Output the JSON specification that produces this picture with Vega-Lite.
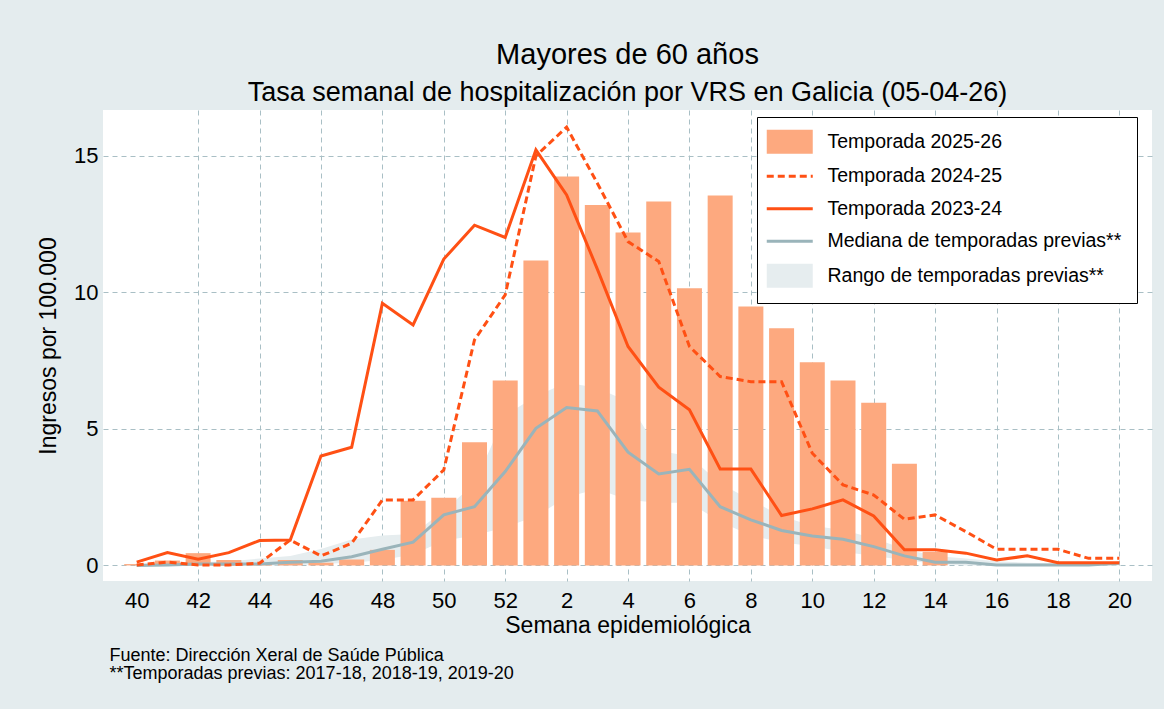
{
  "$schema": "https://vega.github.io/schema/vega-lite/v6.json",
  "autosize": {"type": "none"},
  "width": 1049,
  "height": 471,
  "padding": {"left": 103, "top": 110, "right": 12, "bottom": 128},
  "background": "#E4ECEE",
  "config": {"view": {"fill": "white", "stroke": null}, "font": "Liberation Sans"},
  "title": {
    "text": "Mayores de 60 años",
    "subtitle": "Tasa semanal de hospitalización por VRS en Galicia (05-04-26)",
    "anchor": "middle", "frame": "group",
    "font": "Liberation Sans", "subtitleFont": "Liberation Sans",
    "fontSize": 29, "fontWeight": "normal", "subtitleFontSize": 27,
    "color": "black", "subtitleColor": "black",
    "subtitlePadding": 10, "offset": 4
  },
  "data": {"values": [
    {"idx": 0, "t2526": 0.05, "t2425": 0.02, "t2324": 0.12, "med": 0.0, "rmin": 0, "rmax": 0.08},
    {"idx": 1, "t2526": 0.18, "t2425": 0.12, "t2324": 0.47, "med": 0.02, "rmin": 0, "rmax": 0.1},
    {"idx": 2, "t2526": 0.45, "t2425": 0.02, "t2324": 0.23, "med": 0.05, "rmin": 0, "rmax": 0.12},
    {"idx": 3, "t2526": 0.2, "t2425": 0.02, "t2324": 0.47, "med": 0.05, "rmin": 0, "rmax": 0.15},
    {"idx": 4, "t2526": 0.05, "t2425": 0.08, "t2324": 0.91, "med": 0.05, "rmin": 0, "rmax": 0.25},
    {"idx": 5, "t2526": 0.2, "t2425": 0.93, "t2324": 0.93, "med": 0.12, "rmin": 0, "rmax": 0.35},
    {"idx": 6, "t2526": 0.1, "t2425": 0.35, "t2324": 4.01, "med": 0.15, "rmin": 0.05, "rmax": 0.6},
    {"idx": 7, "t2526": 0.22, "t2425": 0.81, "t2324": 4.33, "med": 0.32, "rmin": 0.1, "rmax": 0.95},
    {"idx": 8, "t2526": 0.57, "t2425": 2.4, "t2324": 9.6, "med": 0.59, "rmin": 0.2, "rmax": 1.1},
    {"idx": 9, "t2526": 2.37, "t2425": 2.4, "t2324": 8.81, "med": 0.85, "rmin": 0.4, "rmax": 1.15},
    {"idx": 10, "t2526": 2.48, "t2425": 3.5, "t2324": 11.22, "med": 1.85, "rmin": 0.9, "rmax": 2.0},
    {"idx": 11, "t2526": 4.51, "t2425": 8.26, "t2324": 12.46, "med": 2.15, "rmin": 1.1, "rmax": 3.0},
    {"idx": 12, "t2526": 6.77, "t2425": 9.91, "t2324": 12.01, "med": 3.44, "rmin": 1.4, "rmax": 5.5},
    {"idx": 13, "t2526": 11.17, "t2425": 15.0, "t2324": 15.22, "med": 5.02, "rmin": 1.8, "rmax": 6.2},
    {"idx": 14, "t2526": 14.24, "t2425": 16.05, "t2324": 13.57, "med": 5.78, "rmin": 2.5, "rmax": 6.7},
    {"idx": 15, "t2526": 13.2, "t2425": 14.0, "t2324": 10.85, "med": 5.66, "rmin": 2.8, "rmax": 6.5},
    {"idx": 16, "t2526": 12.19, "t2425": 11.86, "t2324": 8.02, "med": 4.15, "rmin": 2.4, "rmax": 6.0},
    {"idx": 17, "t2526": 13.33, "t2425": 11.13, "t2324": 6.53, "med": 3.35, "rmin": 2.3, "rmax": 4.2},
    {"idx": 18, "t2526": 10.15, "t2425": 8.02, "t2324": 5.7, "med": 3.52, "rmin": 2.3, "rmax": 4.0},
    {"idx": 19, "t2526": 13.55, "t2425": 6.92, "t2324": 3.53, "med": 2.15, "rmin": 1.6, "rmax": 3.0},
    {"idx": 20, "t2526": 9.48, "t2425": 6.73, "t2324": 3.53, "med": 1.67, "rmin": 1.1, "rmax": 2.4},
    {"idx": 21, "t2526": 8.69, "t2425": 6.73, "t2324": 1.83, "med": 1.28, "rmin": 0.85, "rmax": 1.8},
    {"idx": 22, "t2526": 7.44, "t2425": 4.11, "t2324": 2.07, "med": 1.08, "rmin": 0.7, "rmax": 1.45},
    {"idx": 23, "t2526": 6.77, "t2425": 2.95, "t2324": 2.4, "med": 0.96, "rmin": 0.5, "rmax": 1.3},
    {"idx": 24, "t2526": 5.96, "t2425": 2.58, "t2324": 1.81, "med": 0.69, "rmin": 0.35, "rmax": 1.0},
    {"idx": 25, "t2526": 3.72, "t2425": 1.69, "t2324": 0.57, "med": 0.35, "rmin": 0.2, "rmax": 0.6},
    {"idx": 26, "t2526": 0.5, "t2425": 1.85, "t2324": 0.57, "med": 0.12, "rmin": 0.05, "rmax": 0.35},
    {"idx": 27, "t2526": null, "t2425": 1.24, "t2324": 0.45, "med": 0.12, "rmin": 0, "rmax": 0.25},
    {"idx": 28, "t2526": null, "t2425": 0.59, "t2324": 0.2, "med": 0.02, "rmin": 0, "rmax": 0.15},
    {"idx": 29, "t2526": null, "t2425": 0.59, "t2324": 0.35, "med": 0.02, "rmin": 0, "rmax": 0.1},
    {"idx": 30, "t2526": null, "t2425": 0.59, "t2324": 0.1, "med": 0.02, "rmin": 0, "rmax": 0.08},
    {"idx": 31, "t2526": null, "t2425": 0.26, "t2324": 0.1, "med": 0.02, "rmin": 0, "rmax": 0.06},
    {"idx": 32, "t2526": null, "t2425": 0.26, "t2324": 0.1, "med": 0.08, "rmin": 0, "rmax": 0.1}
  ]},
  "resolve": {"axis": {"x": "independent"}},
  "layer": [
    {
      "mark": {"type": "area", "opacity": 1},
      "encoding": {
        "x": {"field": "idx", "type": "quantitative",
          "scale": {"domain": [-0.935, 32.9], "nice": false, "zero": false},
          "axis": {
            "values": [0, 2, 4, 6, 8, 10, 12, 14, 16, 18, 20, 22, 24, 26, 28, 30, 32],
            "labelExpr": "datum.value <= 12 ? '' + (datum.value + 40) : '' + (datum.value - 12)",
            "title": "Semana epidemiológica",
            "grid": true, "gridDash": [5, 4], "gridColor": "#A9BFC5", "gridWidth": 1,
            "gridOpacity": {"condition": {"test": "datum.value == 0", "value": 0}, "value": 1},
            "domain": false, "ticks": false, "tickSize": 0,
            "labelFontSize": 22, "labelPadding": 9, "labelColor": "black", "labelFlush": false,
            "titleFontSize": 23, "titleFontWeight": "normal", "titleColor": "black", "titlePadding": 3
          }
        },
        "y": {"field": "rmax", "type": "quantitative",
          "scale": {"domain": [-0.57, 16.68], "nice": false, "zero": false},
          "axis": {
            "values": [0, 5, 10, 15],
            "title": "Ingresos por 100.000",
            "grid": true, "gridDash": [5, 4], "gridColor": "#A9BFC5", "gridWidth": 1,
            "domain": false, "ticks": false, "tickSize": 0,
            "labelFontSize": 22, "labelPadding": 5, "labelColor": "black",
            "titleFontSize": 23, "titleFontWeight": "normal", "titleColor": "black", "titlePadding": 13
          }
        },
        "y2": {"field": "rmin"},
        "color": {
          "datum": "Rango de temporadas previas**", "type": "nominal",
          "scale": {
            "domain": ["Temporada 2025-26", "Temporada 2024-25", "Temporada 2023-24", "Mediana de temporadas previas**", "Rango de temporadas previas**"],
            "range": ["#FDA97F", "#FF5014", "#FF5014", "#9AB4BA", "#E6EDEF"]
          },
          "legend": {
            "title": null,
            "orient": "none", "legendX": 654, "legendY": 7,
            "direction": "vertical",
            "fillColor": "white", "strokeColor": "black",
            "padding": 15,
            "symbolSize": 400,
            "symbolType": {"expr": "datum.value == 'Temporada 2025-26' || datum.value == 'Rango de temporadas previas**' ? 'M-2.3,-1.2H2.3V1.2H-2.3Z' : 'M-2.3,0H2.3'"},
            "symbolStrokeColor": {"expr": "(datum.value == 'Temporada 2024-25' || datum.value == 'Temporada 2023-24') ? '#FF5014' : (datum.value == 'Mediana de temporadas previas**' ? '#9AB4BA' : null)"},
            "symbolDash": {"expr": "datum.value == 'Temporada 2024-25' ? [7, 4] : [1, 0]"},
            "symbolStrokeWidth": {"expr": "datum.value == 'Temporada 2025-26' || datum.value == 'Rango de temporadas previas**' ? 0 : 3"},
            "symbolOpacity": 1,
            "symbolOffset": 8,
            "labelOffset": 28,
            "rowPadding": 11.5,
            "labelFontSize": 19.5, "labelColor": "black", "labelFont": "Liberation Sans", "labelLimit": 400
          }
        }
      }
    },
    {
      "transform": [{"filter": "isValid(datum.t2526)"}],
      "mark": {"type": "bar", "size": 25, "color": "#FDA97F"},
      "encoding": {
        "x": {"field": "idx", "type": "quantitative", "axis": null},
        "y": {"field": "t2526", "type": "quantitative", "title": "Ingresos por 100.000"},
        "y2": {"datum": 0}
      }
    },
    {
      "mark": {"type": "line", "strokeWidth": 3, "color": "#9AB4BA"},
      "encoding": {
        "x": {"field": "idx", "type": "quantitative", "axis": null},
        "y": {"field": "med", "type": "quantitative", "title": "Ingresos por 100.000"}
      }
    },
    {
      "mark": {"type": "line", "strokeWidth": 3, "color": "#FF5014"},
      "encoding": {
        "x": {"field": "idx", "type": "quantitative", "axis": null},
        "y": {"field": "t2324", "type": "quantitative", "title": "Ingresos por 100.000"}
      }
    },
    {
      "mark": {"type": "line", "strokeWidth": 3, "strokeDash": [7, 4], "color": "#FF5014"},
      "encoding": {
        "x": {"field": "idx", "type": "quantitative",
          "axis": {
            "orient": "bottom",
            "title": ["Fuente: Dirección Xeral de Saúde Pública", "**Temporadas previas: 2017-18, 2018-19, 2019-20"],
            "labels": false, "ticks": false, "domain": false, "grid": false,
            "titleFontSize": 18, "titleFontWeight": "normal", "titleColor": "black",
            "titleAnchor": "start", "titleAlign": "left", "titleBaseline": "alphabetic",
            "titleX": 6, "titleY": 79, "titleLineHeight": 18
          }
        },
        "y": {"field": "t2425", "type": "quantitative", "title": "Ingresos por 100.000"}
      }
    }
  ]
}
